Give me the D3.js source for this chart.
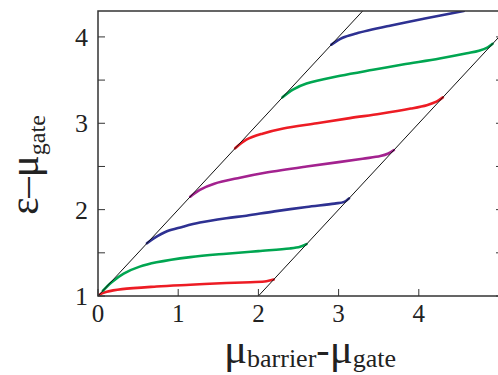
<!DOCTYPE html>
<html>
<head>
<meta charset="utf-8">
<script src="https://cdn.jsdelivr.net/npm/d3@7"></script>
<style>
  body { margin: 0; background: #fff; }
  svg { display: block; }
</style>
</head>
<body>
<svg width="498" height="375"></svg>
<script>
// level curves, [x, y] pairs
var red1 = [[0,1],[0.05,1.03],[0.11,1.05],[0.3,1.08],[0.73,1.11],[1.15,1.13],[1.6,1.15],[1.9,1.16],[2.1,1.17],[2.19,1.19]];
var green1 = [[0.06,1.06],[0.17,1.16],[0.32,1.26],[0.52,1.34],[0.73,1.39],[1.15,1.45],[1.6,1.49],[2.0,1.52],[2.39,1.55],[2.52,1.57],[2.6,1.6]];
var blue1 = [[0.61,1.61],[0.7,1.67],[0.86,1.75],[1.05,1.8],[1.27,1.85],[1.6,1.9],[1.85,1.93],[2.2,1.98],[2.6,2.03],[2.95,2.07],[3.07,2.09],[3.13,2.13]];
var magenta1 = [[1.15,2.15],[1.27,2.23],[1.45,2.3],[1.77,2.37],[2.1,2.43],[2.6,2.5],[3.0,2.55],[3.3,2.59],[3.52,2.62],[3.62,2.65],[3.69,2.69]];
var red2 = [[1.71,2.71],[1.85,2.81],[2.05,2.88],[2.31,2.94],[2.73,3.0],[3.14,3.06],[3.52,3.11],[3.9,3.17],[4.1,3.21],[4.22,3.25],[4.3,3.3]];
var green2 = [[2.3,3.3],[2.43,3.39],[2.6,3.46],[3.02,3.55],[3.43,3.62],[3.8,3.68],[4.26,3.75],[4.6,3.81],[4.75,3.84],[4.86,3.88],[4.92,3.92]];
var blue2 = [[2.91,3.91],[3.05,3.99],[3.22,4.04],[3.64,4.13],[4.06,4.21],[4.56,4.3]];

// the two black boundary lines
var leftEdge = [[0,1],[3.3,4.3]];
var rightEdge = [[2,1],[5.3,4.3]];

var xTicks = [0,1,2,3,4,5];
var yTicks = [1,2,3,4];
var yMinor = [1.5,2.5,3.5];

var curves = [
  {pts: red1, color: "#ed1c24"},
  {pts: green1, color: "#00a651"},
  {pts: blue1, color: "#2e3192"},
  {pts: magenta1, color: "#a3228f"},
  {pts: red2, color: "#ed1c24"},
  {pts: green2, color: "#00a651"},
  {pts: blue2, color: "#2e3192"}
];

var serif = "'Liberation Serif', 'Times New Roman', Times, 'DejaVu Serif', serif";

var svg = d3.select("svg");

var x = d3.scaleLinear().domain([0, 5]).range([98, 499]);
var y = d3.scaleLinear().domain([1, 4.3]).range([296, 11]);
var xMax = 5.05;

svg.append("defs").append("clipPath").attr("id", "plot")
  .append("rect")
    .attr("x", x(0)).attr("y", y(4.3))
    .attr("width", x(xMax) - x(0)).attr("height", y(1) - y(4.3));

var line = d3.line()
    .curve(d3.curveCatmullRom.alpha(0.5))
    .x(function(d) { return x(d[0]); })
    .y(function(d) { return y(d[1]); });

var plot = svg.append("g").attr("clip-path", "url(#plot)");

// coloured curves
plot.selectAll(".level")
  .data(curves)
  .enter().append("path")
    .attr("class", "level")
    .attr("fill", "none")
    .attr("stroke", function(d) { return d.color; })
    .attr("stroke-width", 2.6)
    .attr("stroke-linecap", "round")
    .attr("d", function(d) { return line(d.pts); });

// black diagonals on top
plot.selectAll(".edge")
  .data([leftEdge, rightEdge])
  .enter().append("path")
    .attr("class", "edge")
    .attr("fill", "none")
    .attr("stroke", "#111")
    .attr("stroke-width", 1)
    .attr("d", d3.line().x(function(d) { return x(d[0]); }).y(function(d) { return y(d[1]); }));

// frame
svg.append("rect")
  .attr("x", x(0)).attr("y", y(4.3))
  .attr("width", x(xMax) - x(0)).attr("height", y(1) - y(4.3))
  .attr("fill", "none").attr("stroke", "#333").attr("stroke-width", 1.5);

// x ticks (inward)
svg.selectAll(".xt").data(xTicks).enter().append("line")
  .attr("x1", function(d) { return x(d); }).attr("x2", function(d) { return x(d); })
  .attr("y1", y(1)).attr("y2", y(1) - 7)
  .attr("stroke", "#333").attr("stroke-width", 1);

svg.selectAll(".xl").data(xTicks.slice(0, 5)).enter().append("text")
  .attr("font-family", serif).attr("font-size", 25).attr("fill", "#222")
  .attr("x", function(d) { return x(d); })
  .attr("y", 322)
  .attr("text-anchor", "middle")
  .text(function(d) { return d; });

// y ticks, left and right, major and minor
var yAll = yTicks.concat(yMinor);
svg.selectAll(".yt").data(yAll).enter().append("line")
  .attr("x1", x(0)).attr("x2", x(0) + 7)
  .attr("y1", function(d) { return y(d); }).attr("y2", function(d) { return y(d); })
  .attr("stroke", "#333").attr("stroke-width", 1);
svg.selectAll(".ytr").data(yAll).enter().append("line")
  .attr("x1", x(xMax)).attr("x2", x(xMax) - 7)
  .attr("y1", function(d) { return y(d); }).attr("y2", function(d) { return y(d); })
  .attr("stroke", "#333").attr("stroke-width", 1);

svg.selectAll(".yl").data(yTicks).enter().append("text")
  .attr("font-family", serif).attr("font-size", 26).attr("fill", "#222")
  .attr("x", 88)
  .attr("y", function(d) { return y(d); })
  .attr("dy", "0.35em")
  .attr("text-anchor", "end")
  .text(function(d) { return d; });

// axis titles
var xt = svg.append("text")
  .attr("font-family", serif).attr("fill", "#222")
  .attr("x", 310).attr("y", 363).attr("text-anchor", "middle");
xt.append("tspan").attr("font-size", 43).text("\u03bc");
xt.append("tspan").attr("font-size", 26).attr("dy", 4).text("barrier");
xt.append("tspan").attr("font-size", 40).attr("dy", -4).text("-");
xt.append("tspan").attr("font-size", 43).text("\u03bc");
xt.append("tspan").attr("font-size", 26).attr("dy", 4).text("gate");

var yt = svg.append("text")
  .attr("font-family", serif).attr("fill", "#222")
  .attr("transform", "translate(38,165) rotate(-90)")
  .attr("text-anchor", "middle");
yt.append("tspan").attr("font-size", 41).text("\u03b5\u2013\u03bc");
yt.append("tspan").attr("font-size", 24).attr("dy", 7).text("gate");
</script>
</body>
</html>
